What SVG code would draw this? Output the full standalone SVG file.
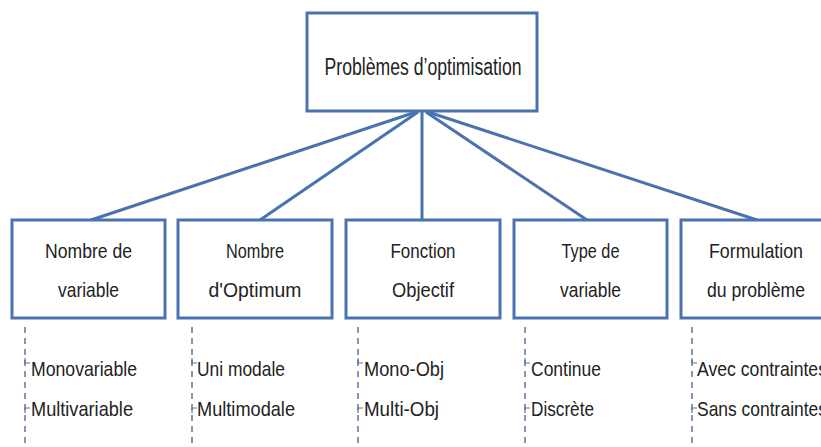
<svg xmlns="http://www.w3.org/2000/svg" width="821" height="447" viewBox="0 0 821 447">
<style>
.box{fill:#fff;stroke:#4a72b0;stroke-width:3}
.lbl{font-family:"Liberation Sans",Arial,sans-serif;font-size:21px;fill:#222;text-anchor:middle}
.root{font-size:23px}
.item{font-family:"Liberation Sans",Arial,sans-serif;font-size:21px;fill:#222}
.edge{stroke:#4a72b0;stroke-width:3;fill:none}
.dash{stroke:#5f7596;stroke-width:1.5;stroke-dasharray:6 5;fill:none}
.tick{stroke:#5f7596;stroke-width:1.2;fill:none}
</style>
<rect width="821" height="447" fill="#fff"/>
<g id="connectors">
<line class="edge" x1="416" y1="112" x2="91" y2="220"/>
<line class="edge" x1="418" y1="112" x2="260" y2="220"/>
<line class="edge" x1="422" y1="112" x2="422" y2="220"/>
<line class="edge" x1="426" y1="112" x2="587" y2="220"/>
<line class="edge" x1="428" y1="112" x2="757" y2="220"/>
</g>
<g id="root">
<rect class="box" x="307" y="13" width="230" height="98"/>
<text class="lbl root" x="423" y="75" textLength="197" lengthAdjust="spacingAndGlyphs">Problèmes d’optimisation</text>
</g>
<g id="n1">
<rect class="box" x="12" y="220" width="153" height="98"/>
<text class="lbl" x="88.5" y="258" textLength="87" lengthAdjust="spacingAndGlyphs">Nombre de</text>
<text class="lbl" x="88.5" y="297" textLength="61" lengthAdjust="spacingAndGlyphs">variable</text>
</g>
<g id="n2">
<rect class="box" x="178" y="220" width="154" height="98"/>
<text class="lbl" x="255" y="258" textLength="58" lengthAdjust="spacingAndGlyphs">Nombre</text>
<text class="lbl" x="255" y="297" textLength="93" lengthAdjust="spacingAndGlyphs">d'Optimum</text>
</g>
<g id="n3">
<rect class="box" x="346" y="220" width="154" height="98"/>
<text class="lbl" x="423" y="258" textLength="65" lengthAdjust="spacingAndGlyphs">Fonction</text>
<text class="lbl" x="423" y="297" textLength="62" lengthAdjust="spacingAndGlyphs">Objectif</text>
</g>
<g id="n4">
<rect class="box" x="514" y="220" width="153" height="98"/>
<text class="lbl" x="590.5" y="258" textLength="58" lengthAdjust="spacingAndGlyphs">Type de</text>
<text class="lbl" x="590.5" y="297" textLength="61" lengthAdjust="spacingAndGlyphs">variable</text>
</g>
<g id="n5">
<rect class="box" x="681" y="220" width="154" height="98"/>
<text class="lbl" x="756" y="258" textLength="94" lengthAdjust="spacingAndGlyphs">Formulation</text>
<text class="lbl" x="756" y="297" textLength="98" lengthAdjust="spacingAndGlyphs">du problème</text>
</g>
<g id="list1">
<line class="dash" x1="25" y1="327" x2="25" y2="447"/>
<path class="tick" d="M25 358 V363 H30 M25 413 V408 H30"/>
<text class="item" x="31" y="376" textLength="106" lengthAdjust="spacingAndGlyphs">Monovariable</text>
<text class="item" x="31" y="416" textLength="102" lengthAdjust="spacingAndGlyphs">Multivariable</text>
</g>
<g id="list2">
<line class="dash" x1="192" y1="327" x2="192" y2="447"/>
<path class="tick" d="M192 358 V363 H197 M192 413 V408 H197"/>
<text class="item" x="197" y="376" textLength="88" lengthAdjust="spacingAndGlyphs">Uni modale</text>
<text class="item" x="197" y="416" textLength="98" lengthAdjust="spacingAndGlyphs">Multimodale</text>
</g>
<g id="list3">
<line class="dash" x1="358" y1="327" x2="358" y2="447"/>
<path class="tick" d="M358 358 V363 H363 M358 413 V408 H363"/>
<text class="item" x="364" y="376" textLength="80" lengthAdjust="spacingAndGlyphs">Mono-Obj</text>
<text class="item" x="364" y="416" textLength="75" lengthAdjust="spacingAndGlyphs">Multi-Obj</text>
</g>
<g id="list4">
<line class="dash" x1="525" y1="327" x2="525" y2="447"/>
<path class="tick" d="M525 358 V363 H530 M525 413 V408 H530"/>
<text class="item" x="531" y="376" textLength="70" lengthAdjust="spacingAndGlyphs">Continue</text>
<text class="item" x="531" y="416" textLength="63" lengthAdjust="spacingAndGlyphs">Discrète</text>
</g>
<g id="list5">
<line class="dash" x1="692" y1="327" x2="692" y2="447"/>
<path class="tick" d="M692 358 V363 H697 M692 413 V408 H697"/>
<text class="item" x="697" y="376" textLength="130" lengthAdjust="spacingAndGlyphs">Avec contraintes</text>
<text class="item" x="697" y="416" textLength="130" lengthAdjust="spacingAndGlyphs">Sans contraintes</text>
</g>
</svg>
